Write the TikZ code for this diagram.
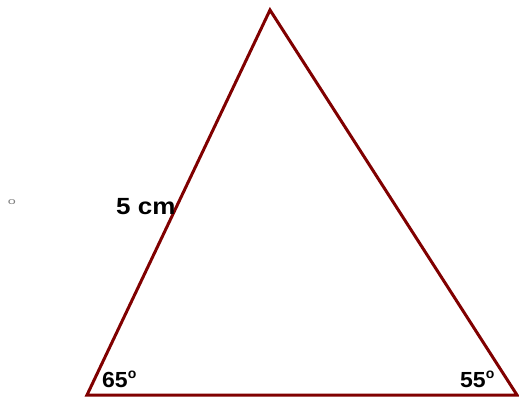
\documentclass[tikz,border=0pt]{standalone}
\usepackage{fontspec}
\setmainfont{Liberation Sans}
\definecolor{tri}{RGB}{128,0,0}
\begin{document}
\begin{tikzpicture}[x=1pt,y=-1pt,
  side/.style={draw=tri,line width=3pt,line join=miter},
  lbl/.style={font=\fontsize{26}{30}\selectfont\bfseries,inner sep=0pt},
  ang/.style={font=\fontsize{23}{27}\selectfont\bfseries,inner sep=0pt}]
\useasboundingbox (0,0) rectangle (519,399);
\coordinate (A) at (270,10);
\coordinate (B) at (87,395);
\coordinate (C) at (517,395);
\draw[side] (A) -- (B) -- (C) -- cycle;
\node[lbl,anchor=base west] (s) at (116,214) {\scalebox{1}[0.9]{5 cm}};
\node[ang,anchor=base west] (a) at (102,387) {\scalebox{1}[0.95]{65}\raisebox{0.36em}{\fontsize{14}{15}\selectfont o}};
\node[ang,anchor=base west] (b) at (460,387) {\scalebox{1}[0.95]{55}\raisebox{0.36em}{\fontsize{14}{15}\selectfont o}};
\node[font=\fontsize{9}{10}\selectfont,text=gray,inner sep=0pt] (o) at (12,202) {\scalebox{1.6}[1]{o}};
\end{tikzpicture}
\end{document}
